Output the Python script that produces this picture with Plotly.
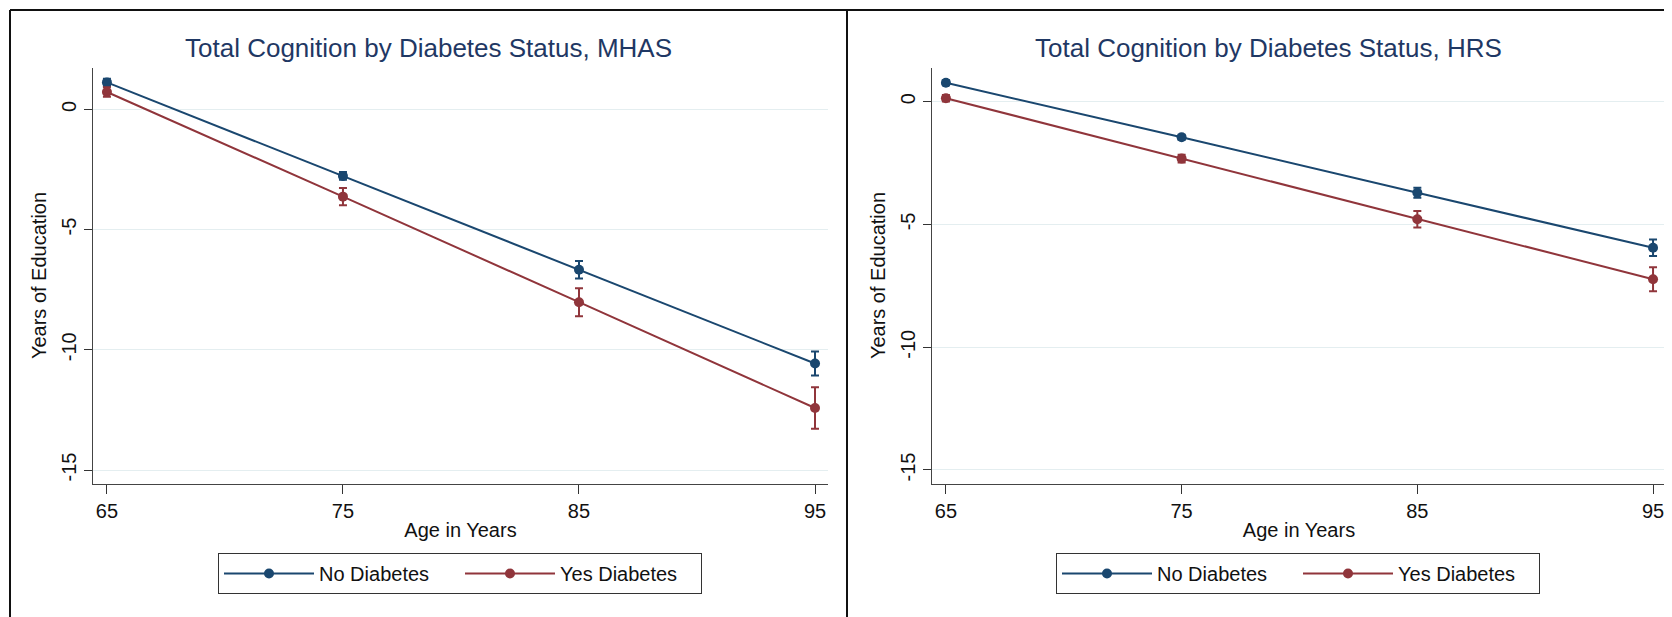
import plotly.graph_objects as go

ages = [65, 75, 85, 95]
x_ticks = [65, 75, 85, 95]
y_ticks = [0, -5, -10, -15]
y_tick_labels = ["0", "-5", "-10", "-15"]

mhas_no = [1.12, -2.77, -6.67, -10.57]
mhas_no_err = [0.15, 0.16, 0.36, 0.50]
mhas_yes = [0.72, -3.63, -8.02, -12.42]
mhas_yes_err = [0.20, 0.36, 0.58, 0.86]

hrs_no = [0.77, -1.45, -3.71, -5.95]
hrs_no_err = [0.10, 0.10, 0.20, 0.34]
hrs_yes = [0.14, -2.32, -4.79, -7.23]
hrs_yes_err = [0.13, 0.16, 0.34, 0.49]

titles = ["Total Cognition by Diabetes Status, MHAS", "Total Cognition by Diabetes Status, HRS"]
series_names = ["No Diabetes", "Yes Diabetes"]

NAVY = "#1a476f"
MAROON = "#90353b"
FONT = "Liberation Sans, Arial, sans-serif"
# the page body adds an 8px margin, so the figure is sized to fill the rest of the window
OFF = 8
W, H = 1672 - OFF, 617 - OFF

fig = go.Figure()

def add(y, err, name, color, xa, ya, legend):
    fig.add_trace(go.Scatter(
        x=ages, y=y, name=name, mode="lines+markers",
        line=dict(color=color, width=2),
        marker=dict(color=color, size=10),
        error_y=dict(type="data", array=err, visible=True, color=color, thickness=2, width=4),
        xaxis=xa, yaxis=ya, legend=legend,
    ))

add(mhas_no, mhas_no_err, series_names[0], NAVY, "x", "y", "legend")
add(mhas_yes, mhas_yes_err, series_names[1], MAROON, "x", "y", "legend")
add(hrs_no, hrs_no_err, series_names[0], NAVY, "x2", "y2", "legend2")
add(hrs_yes, hrs_yes_err, series_names[1], MAROON, "x2", "y2", "legend2")

def px_x(p):
    return (p - OFF) / W

def px_y(p):
    return 1 - (p - OFF) / H

ydom = [px_y(483.5), px_y(67.5)]

xaxis_common = dict(
    range=[64.41, 95.55], tickvals=x_ticks, ticks="outside", ticklen=9, tickwidth=1,
    tickcolor="#333", showline=True, linecolor="#444", linewidth=1, showgrid=False,
    zeroline=False, automargin=False, tickfont=dict(size=20, color="#111", family=FONT),
    title=dict(text="Age in Years", font=dict(size=20, color="#111", family=FONT), standoff=2),
)
yaxis_common = dict(
    tickvals=y_ticks, ticktext=y_tick_labels, ticks="outside", ticklen=8, tickwidth=1,
    tickcolor="#333", showline=True, linecolor="#444", linewidth=1, showgrid=True,
    gridcolor="#e4eef0", gridwidth=1, zeroline=False, tickangle=-90, automargin=False,
    tickfont=dict(size=20, color="#111", family=FONT),
    title=dict(text="Years of Education", font=dict(size=20, color="#111", family=FONT), standoff=6),
    domain=ydom,
)

legend_common = dict(
    orientation="h", y=px_y(553), xanchor="left", yanchor="top",
    bordercolor="#333", borderwidth=1, bgcolor="white",
    font=dict(size=20, family=FONT, color="#111"),
    entrywidth=136, entrywidthmode="pixels", itemwidth=90,
)

fig.update_layout(
    width=W, height=H, margin=dict(l=0, r=0, t=0, b=0, autoexpand=False),
    paper_bgcolor="white", plot_bgcolor="white",
    font=dict(family=FONT, color="#111"),
    xaxis=dict(xaxis_common, domain=[px_x(93), px_x(828)], anchor="y"),
    yaxis=dict(yaxis_common, range=[-15.56, 1.74], anchor="x"),
    xaxis2=dict(xaxis_common, domain=[px_x(932), px_x(1666)], anchor="y2"),
    yaxis2=dict(yaxis_common, range=[-15.55, 1.39], anchor="x2"),
    showlegend=True,
    legend=dict(legend_common, x=px_x(218)),
    legend2=dict(legend_common, x=px_x(1056)),
)

for i, t in enumerate(titles):
    cx = [428, 1268][i]
    fig.add_annotation(text=t, xref="paper", yref="paper", x=px_x(cx), y=px_y(48),
                       xanchor="center", yanchor="middle", showarrow=False,
                       font=dict(size=26, color="#1f3864", family=FONT))

# panel frames
for (x0, y0, x1, y1) in [(10, 10, 1672, 10), (10, 10, 10, 617), (847, 10, 847, 617)]:
    fig.add_shape(type="line", xref="paper", yref="paper",
                  x0=px_x(x0), y0=px_y(y0), x1=px_x(x1), y1=px_y(y1),
                  line=dict(color="#111", width=2))

fig.write_html("out.html")
